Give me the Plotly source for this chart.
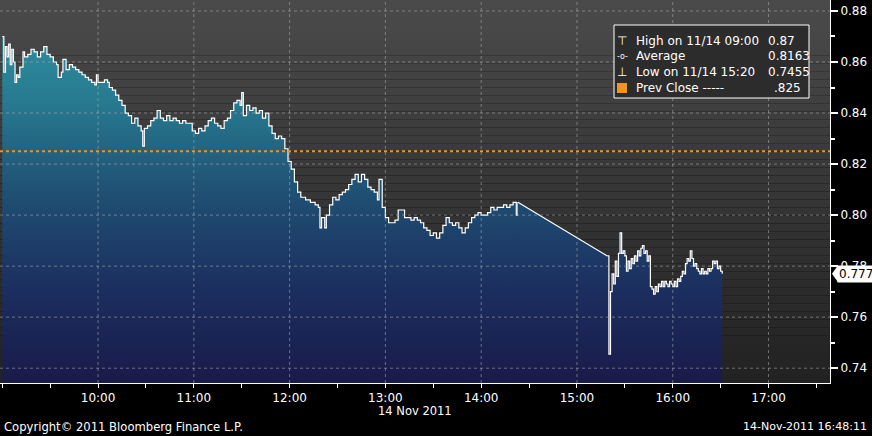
import plotly.graph_objects as go
import pandas as pd

DAY = "2011-11-14"

# ---- data (time of day, price) ----
morning_times = [
    "09:00", "09:01", "09:02", "09:03", "09:04", "09:05", "09:06", "09:07", "09:08", "09:09",
    "09:10", "09:11", "09:12", "09:13", "09:14", "09:16", "09:18", "09:20", "09:22", "09:24",
    "09:26", "09:28", "09:30", "09:32", "09:34", "09:35", "09:37", "09:38", "09:40", "09:42",
    "09:44", "09:46", "09:48", "09:50", "09:52", "09:54", "09:56", "09:58", "09:59", "10:00",
    "10:02", "10:04", "10:06", "10:07", "10:09", "10:11", "10:13", "10:15", "10:17", "10:19",
    "10:21", "10:23", "10:25", "10:27", "10:28", "10:29", "10:31", "10:33", "10:35", "10:37",
    "10:39", "10:41", "10:43", "10:45", "10:47", "10:49", "10:51", "10:53", "10:55", "10:57",
    "10:59", "11:01", "11:03", "11:05", "11:07", "11:09", "11:11", "11:13", "11:15", "11:17",
    "11:19", "11:21", "11:23", "11:25", "11:27", "11:29", "11:30", "11:31", "11:33", "11:35",
    "11:37", "11:39", "11:41", "11:43", "11:45", "11:47", "11:49", "11:51", "11:53", "11:55",
    "11:57", "11:59", "12:01", "12:03", "12:05", "12:07", "12:10", "12:13", "12:16", "12:18",
    "12:19", "12:20", "12:22", "12:23", "12:25", "12:27", "12:29", "12:31", "12:33", "12:35",
    "12:37", "12:39", "12:41", "12:43", "12:45", "12:47", "12:49", "12:51", "12:53", "12:55",
    "12:56", "12:58", "13:00", "13:02", "13:04", "13:06", "13:08", "13:10", "13:12", "13:14",
    "13:16", "13:18", "13:20", "13:22", "13:24", "13:26", "13:28", "13:30", "13:32", "13:34",
    "13:36", "13:38", "13:40", "13:42", "13:44", "13:46", "13:48", "13:50", "13:52", "13:54",
    "13:56", "13:58", "14:00", "14:02", "14:04", "14:06", "14:08", "14:10", "14:12", "14:14",
    "14:16", "14:18", "14:20", "14:22", "14:23",
]
morning_values = [
    0.870, 0.856, 0.866, 0.862, 0.867, 0.859, 0.865, 0.860, 0.852, 0.855,
    0.854, 0.858, 0.858, 0.864, 0.862, 0.863, 0.865, 0.864, 0.862, 0.864,
    0.866, 0.863, 0.862, 0.860, 0.859, 0.854, 0.856, 0.861, 0.857, 0.859,
    0.858, 0.857, 0.856, 0.855, 0.854, 0.853, 0.852, 0.851, 0.855, 0.852,
    0.852, 0.853, 0.852, 0.850, 0.849, 0.847, 0.845, 0.843, 0.840, 0.839,
    0.836, 0.838, 0.835, 0.833, 0.827, 0.834, 0.835, 0.837, 0.838, 0.841,
    0.838, 0.837, 0.839, 0.837, 0.838, 0.837, 0.836, 0.837, 0.836, 0.836,
    0.833, 0.832, 0.834, 0.833, 0.835, 0.837, 0.838, 0.836, 0.835, 0.834,
    0.837, 0.838, 0.841, 0.844, 0.845, 0.843, 0.848, 0.839, 0.843, 0.841,
    0.842, 0.840, 0.841, 0.838, 0.840, 0.835, 0.832, 0.830, 0.831, 0.830,
    0.826, 0.821, 0.818, 0.813, 0.809, 0.807, 0.806, 0.805, 0.804, 0.803,
    0.795, 0.799, 0.795, 0.800, 0.804, 0.807, 0.806, 0.808, 0.809, 0.810,
    0.812, 0.814, 0.816, 0.813, 0.816, 0.814, 0.811, 0.810, 0.809, 0.806,
    0.814, 0.803, 0.799, 0.797, 0.797, 0.798, 0.802, 0.802, 0.799, 0.799,
    0.798, 0.799, 0.798, 0.797, 0.795, 0.794, 0.792, 0.793, 0.791, 0.793,
    0.796, 0.799, 0.797, 0.796, 0.797, 0.795, 0.793, 0.795, 0.797, 0.799,
    0.800, 0.801, 0.800, 0.800, 0.801, 0.803, 0.802, 0.803, 0.803, 0.804,
    0.803, 0.804, 0.805, 0.800, 0.805,
]
afternoon_start = "15:19"   # one-minute bars from here
afternoon_values = [
    0.784, 0.7455, 0.770, 0.777, 0.773, 0.782, 0.776, 0.785, 0.793, 0.785,
    0.786, 0.784, 0.778, 0.782, 0.779, 0.783, 0.781, 0.784, 0.782, 0.786,
    0.784, 0.787, 0.788, 0.785, 0.786, 0.782, 0.784, 0.772, 0.771, 0.769,
    0.772, 0.770, 0.773, 0.772, 0.774, 0.772, 0.774, 0.773, 0.772, 0.774,
    0.773, 0.772, 0.774, 0.772, 0.775, 0.774, 0.776, 0.778, 0.777, 0.781,
    0.783, 0.782, 0.786, 0.783, 0.780, 0.781, 0.779, 0.778, 0.777, 0.779,
    0.777, 0.778, 0.777, 0.779, 0.778, 0.779, 0.782, 0.781, 0.782, 0.779,
    0.780, 0.778, 0.777,
]
prev_close = 0.825
last_price = 0.777
legend_rows = [
    ("⊤", "High on 11/14 09:00", "0.87"),
    ("-o-", "Average", "0.8163"),
    ("⊥", "Low on 11/14 15:20", "0.7455"),
    ("", "Prev Close -----", ".825"),
]
y_ticks = [0.74, 0.76, 0.78, 0.80, 0.82, 0.84, 0.86, 0.88]
x_tick_labels = ["10:00", "11:00", "12:00", "13:00", "14:00", "15:00", "16:00", "17:00"]
x_range = ["08:58:35", "17:38:30"]
y_range = [0.7342, 0.8843]

FONT = "DejaVu Sans"
mt = pd.to_datetime([f"{DAY} {t}" for t in morning_times])
at = pd.date_range(f"{DAY} {afternoon_start}", periods=len(afternoon_values), freq="min")

grad = dict(type="vertical", start=y_range[0], stop=0.872,
            colorscale=[[0.0, "#191b4a"], [0.25, "#1b2d5e"], [0.52, "#1f4d72"],
                        [0.8, "#277a90"], [1.0, "#2f8e9f"]])
line = dict(color="white", width=1.2)

fig = go.Figure()
fig.add_trace(go.Scatter(x=mt, y=morning_values, mode="lines", line=dict(**line, shape="hv"),
                         fill="tozeroy", fillgradient=grad, hoverinfo="skip"))
fig.add_trace(go.Scatter(x=[mt[-1], at[0]], y=[morning_values[-1], afternoon_values[0]],
                         mode="lines", line=line, fill="tozeroy", fillgradient=grad,
                         hoverinfo="skip"))
fig.add_trace(go.Scatter(x=at, y=afternoon_values, mode="lines", line=dict(**line, shape="hv"),
                         fill="tozeroy", fillgradient=grad, hoverinfo="skip"))

shapes = []
# plot background gradient (dark gray)
N = 48
top, bot = (75, 75, 75), (34, 34, 34)
for i in range(N):
    f = (i + 0.5) / N
    c = tuple(int(bot[k] + (top[k] - bot[k]) * f) for k in range(3))
    shapes.append(dict(type="rect", xref="paper", yref="paper", x0=0, x1=1,
                       y0=i / N, y1=(i + 1) / N, fillcolor="rgb(%d,%d,%d)" % c,
                       line=dict(width=0), layer="below"))
# grid lines drawn above fill
gcol = "rgba(175,175,175,0.55)"
for yv in y_ticks:
    shapes.append(dict(type="line", xref="paper", yref="y", x0=0, x1=1, y0=yv, y1=yv,
                       line=dict(color=gcol, width=1, dash="dot"), layer="above"))
hour_ticks = pd.to_datetime([f"{DAY} {t}" for t in x_tick_labels])
for xv in hour_ticks:
    shapes.append(dict(type="line", xref="x", yref="paper", x0=xv, x1=xv, y0=0, y1=1,
                       line=dict(color=gcol, width=1, dash="dot"), layer="above"))
# previous close
shapes.append(dict(type="line", xref="paper", yref="y", x0=0, x1=1, y0=prev_close, y1=prev_close,
                   line=dict(color="#f0921e", width=2, dash="dot"), layer="above"))
# legend box
W, H = 830.0, 383.0
px = lambda v: v / W
py = lambda v: 1 - v / H
shapes.append(dict(type="rect", xref="paper", yref="paper", x0=px(614), x1=px(809),
                   y0=py(98), y1=py(25), fillcolor="#2c2c2c",
                   line=dict(color="white", width=1), layer="above"))
shapes.append(dict(type="rect", xref="paper", yref="paper", x0=px(617), x1=px(627),
                   y0=py(93), y1=py(83), fillcolor="#f7941d", line=dict(width=0), layer="above"))
# last price pointer
shapes.append(dict(type="path", xref="paper", yref="y",
                   path=f"M {px(832)},{last_price} L {px(838)},{last_price + 0.0033} "
                        f"L {px(838)},{last_price - 0.0033} Z",
                   fillcolor="white", line=dict(width=0), layer="above"))

ann = []
row_y = [41, 56, 72, 88]
val_x = [766, 766, 766, 772]
for (icon, label, val), ry, vx in zip(legend_rows, row_y, val_x):
    if icon:
        ann.append(dict(text=icon, x=px(622), y=py(ry), xref="paper", yref="paper",
                        showarrow=False, xanchor="center", yanchor="middle",
                        font=dict(family=FONT, size=12 if len(icon) == 1 else 8, color="white")))
    ann.append(dict(text=label, x=px(634), y=py(ry), xref="paper", yref="paper",
                    showarrow=False, xanchor="left", yanchor="middle",
                    font=dict(family=FONT, size=12, color="white")))
    ann.append(dict(text=val, x=px(vx), y=py(ry), xref="paper", yref="paper",
                    showarrow=False, xanchor="left", yanchor="middle",
                    font=dict(family=FONT, size=12, color="white")))
ann.append(dict(text=f"{last_price:.3f}", x=1, y=last_price, xref="paper", yref="y",
                xanchor="left", yanchor="middle", xshift=7, showarrow=False,
                bgcolor="white", borderpad=1, font=dict(family=FONT, size=12, color="black")))
ann.append(dict(text="14 Nov 2011", x=px(415), y=py(411), xref="paper", yref="paper",
                showarrow=False, xanchor="center", yanchor="middle",
                font=dict(family=FONT, size=11.5, color="white")))
ann.append(dict(text="Copyright© 2011 Bloomberg Finance L.P.", x=px(2), y=py(427),
                xref="paper", yref="paper", showarrow=False, xanchor="left", yanchor="middle",
                font=dict(family=FONT, size=11.6, color="white")))
ann.append(dict(text="14-Nov-2011 16:48:11", x=px(869), y=py(427),
                xref="paper", yref="paper", showarrow=False, xanchor="right", yanchor="middle",
                font=dict(family=FONT, size=11, color="white")))

fig.update_layout(
    width=872, height=436, margin=dict(l=0, r=42, t=0, b=53),
    paper_bgcolor="black", plot_bgcolor="rgba(0,0,0,0)", showlegend=False,
    shapes=shapes, annotations=ann,
    font=dict(family=FONT, color="white", size=12),
    xaxis=dict(type="date", range=[f"{DAY} {x_range[0]}", f"{DAY} {x_range[1]}"],
               showgrid=False, zeroline=False, showline=True, linecolor="white", linewidth=1,
               ticks="outside", ticklen=4, tickcolor="white", tickwidth=1,
               tickvals=hour_ticks, ticktext=x_tick_labels,
               tickfont=dict(family=FONT, size=12, color="white"),
               minor=dict(ticks="outside", ticklen=4, tickcolor="white", dtick=30 * 60 * 1000,
                          tick0=f"{DAY} 09:00", showgrid=False),
               fixedrange=True),
    yaxis=dict(side="right", range=y_range, showgrid=False, zeroline=False,
               showline=True, linecolor="white", linewidth=1,
               ticks="outside", ticklen=7, tickwidth=2, tickcolor="white",
               tickvals=y_ticks, ticktext=[f"{v:.2f}" for v in y_ticks],
               tickfont=dict(family=FONT, size=12, color="white"),
               minor=dict(ticks="outside", ticklen=4, tickcolor="white", dtick=0.01,
                          tick0=0.74, showgrid=False),
               fixedrange=True),
)

fig.write_html("out.html", config={"displayModeBar": False},
               post_script="document.body.style.margin='0px';"
                           "document.body.style.background='black';")
